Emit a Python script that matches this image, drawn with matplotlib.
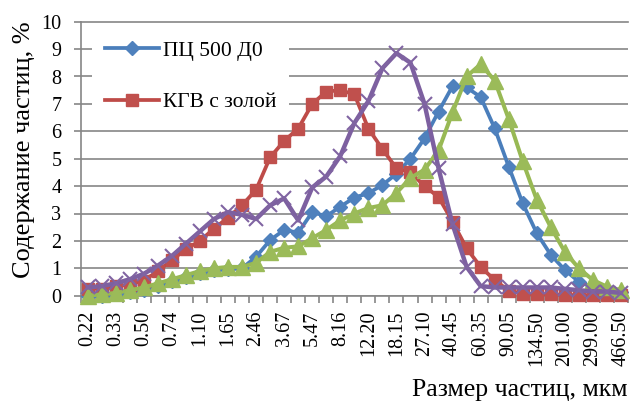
import numpy as np
import matplotlib
matplotlib.use("Agg")
import matplotlib.pyplot as plt

plt.rcParams['font.family'] = ['Liberation Serif', 'DejaVu Serif']

# Particle size bins (every second bin is labelled on the axis)
tick_labels = ["0.22", "0.33", "0.50", "0.74", "1.10", "1.65", "2.46", "3.67",
               "5.47", "8.16", "12.20", "18.15", "27.10", "40.45", "60.35",
               "90.05", "134.50", "201.00", "299.00", "466.50"]

# Particle content, % per bin
pc500 = [0.00, 0.00, 0.05, 0.12, 0.22, 0.36, 0.52, 0.67, 0.82, 0.92,
         0.97, 1.00, 1.42, 2.03, 2.40, 2.30, 3.05, 2.90, 3.25, 3.58,
         3.74, 4.04, 4.45, 5.00, 5.74, 6.72, 7.65, 7.60, 7.25, 6.11,
         4.71, 3.37, 2.28, 1.49, 0.94, 0.51, 0.30, 0.20, 0.15]
kgv_ash = [0.25, 0.25, 0.35, 0.40, 0.55, 0.90, 1.30, 1.70, 2.00, 2.45,
           2.85, 3.30, 3.87, 5.05, 5.65, 6.10, 7.00, 7.45, 7.50, 7.35,
           6.10, 5.35, 4.65, 4.50, 4.00, 3.60, 2.70, 1.73, 1.05, 0.57,
           0.18, 0.08, 0.05, 0.05, 0.03, 0.02, 0.02, 0.02, 0.02]
series3 = [0.00, 0.05, 0.10, 0.20, 0.30, 0.45, 0.60, 0.75, 0.90, 1.00,
           1.05, 1.05, 1.20, 1.60, 1.75, 1.80, 2.10, 2.40, 2.75, 3.00,
           3.20, 3.30, 3.75, 4.30, 4.60, 5.30, 6.70, 8.00, 8.45, 7.85,
           6.45, 4.90, 3.50, 2.50, 1.60, 1.00, 0.57, 0.33, 0.20]
series4 = [0.30, 0.35, 0.45, 0.60, 0.80, 1.10, 1.45, 1.90, 2.35, 2.80,
           3.05, 2.95, 2.80, 3.30, 3.55, 2.75, 3.95, 4.35, 5.10, 6.30,
           7.10, 8.30, 8.85, 8.50, 7.00, 4.65, 2.60, 1.05, 0.35, 0.30,
           0.30, 0.30, 0.30, 0.30, 0.25, 0.20, 0.15, 0.15, 0.10]

W, H = 630, 403
fig = plt.figure(figsize=(W / 100, H / 100), dpi=100)
x0, x1, y0, y1 = 80.7, 628.0, 295.7, 21.7
ax = fig.add_axes([x0 / W, 1 - y0 / H, (x1 - x0) / W, (y0 - y1) / H])

grey = '#868686'
x = np.arange(len(pc500))

# values, line colour, marker colour, marker, marker size, edge width, line width
styles = [
    (pc500, '#4A7EBB', '#4F81BD', 'D', 7.2, 1.0, 2.7),
    (kgv_ash, '#BE4B48', '#C0504D', 's', 8.0, 1.0, 2.7),
    (series3, '#98B954', '#9BBB59', '^', 12.0, 1.0, 2.9),
    (series4, '#7D60A0', '#8064A2', 'x', 10.5, 1.5, 3.2),
]
handles = []
for i, (vals, lc, mc, mk, ms, mew, lw) in enumerate(styles):
    ln, = ax.plot(x, vals, color=lc, lw=lw, marker=mk, ms=ms,
                  mfc=mc, mec=mc, mew=mew, zorder=3 + i, clip_on=False,
                  solid_joinstyle='round')
    handles.append(ln)

ax.set_xlim(-0.5, len(pc500) - 0.5)
ax.set_ylim(0, 10)
ax.set_yticks(np.arange(0, 11, 1))
ax.grid(axis='y', color=grey, lw=1.2)
ax.get_ygridlines()[-1].set_clip_on(False)
ax.set_axisbelow(True)

ax.set_xticks(x[::2])
ax.set_xticklabels(tick_labels, rotation=90, fontsize=14.5)
ax.set_xticks(np.arange(-0.5, len(pc500), 1), minor=True)
ax.tick_params(axis='x', which='major', length=0, pad=11)
ax.tick_params(axis='x', which='minor', length=5, color=grey, width=1.2)
ax.tick_params(axis='y', length=5, color=grey, width=1.2, labelsize=14.5, pad=9)

for side in ('top', 'right'):
    ax.spines[side].set_visible(False)
for side in ('left', 'bottom'):
    ax.spines[side].set_color(grey)
    ax.spines[side].set_linewidth(1.2)
    ax.spines[side].set_zorder(2)

leg = ax.legend(handles=handles[:2], labels=['ПЦ 500 Д0', 'КГВ с золой'],
                loc='upper left', bbox_to_anchor=(92 / W, 1 - 28 / H),
                bbox_transform=fig.transFigure, frameon=True,
                facecolor='white', edgecolor='none', framealpha=1,
                fontsize=15.5, handlelength=2.5, handletextpad=0.2,
                labelspacing=1.45, borderpad=0.6, borderaxespad=0,
                fancybox=False)
leg.set_zorder(10)

fig.text(24 / W, 1 - 150 / H, 'Содержание частиц, %', rotation=90,
         ha='center', va='center', fontsize=19)
fig.text(627 / W, 1 - 390 / H, 'Размер частиц, мкм', ha='right',
         va='center', fontsize=18.5)

fig.savefig('out.png', dpi=100)
